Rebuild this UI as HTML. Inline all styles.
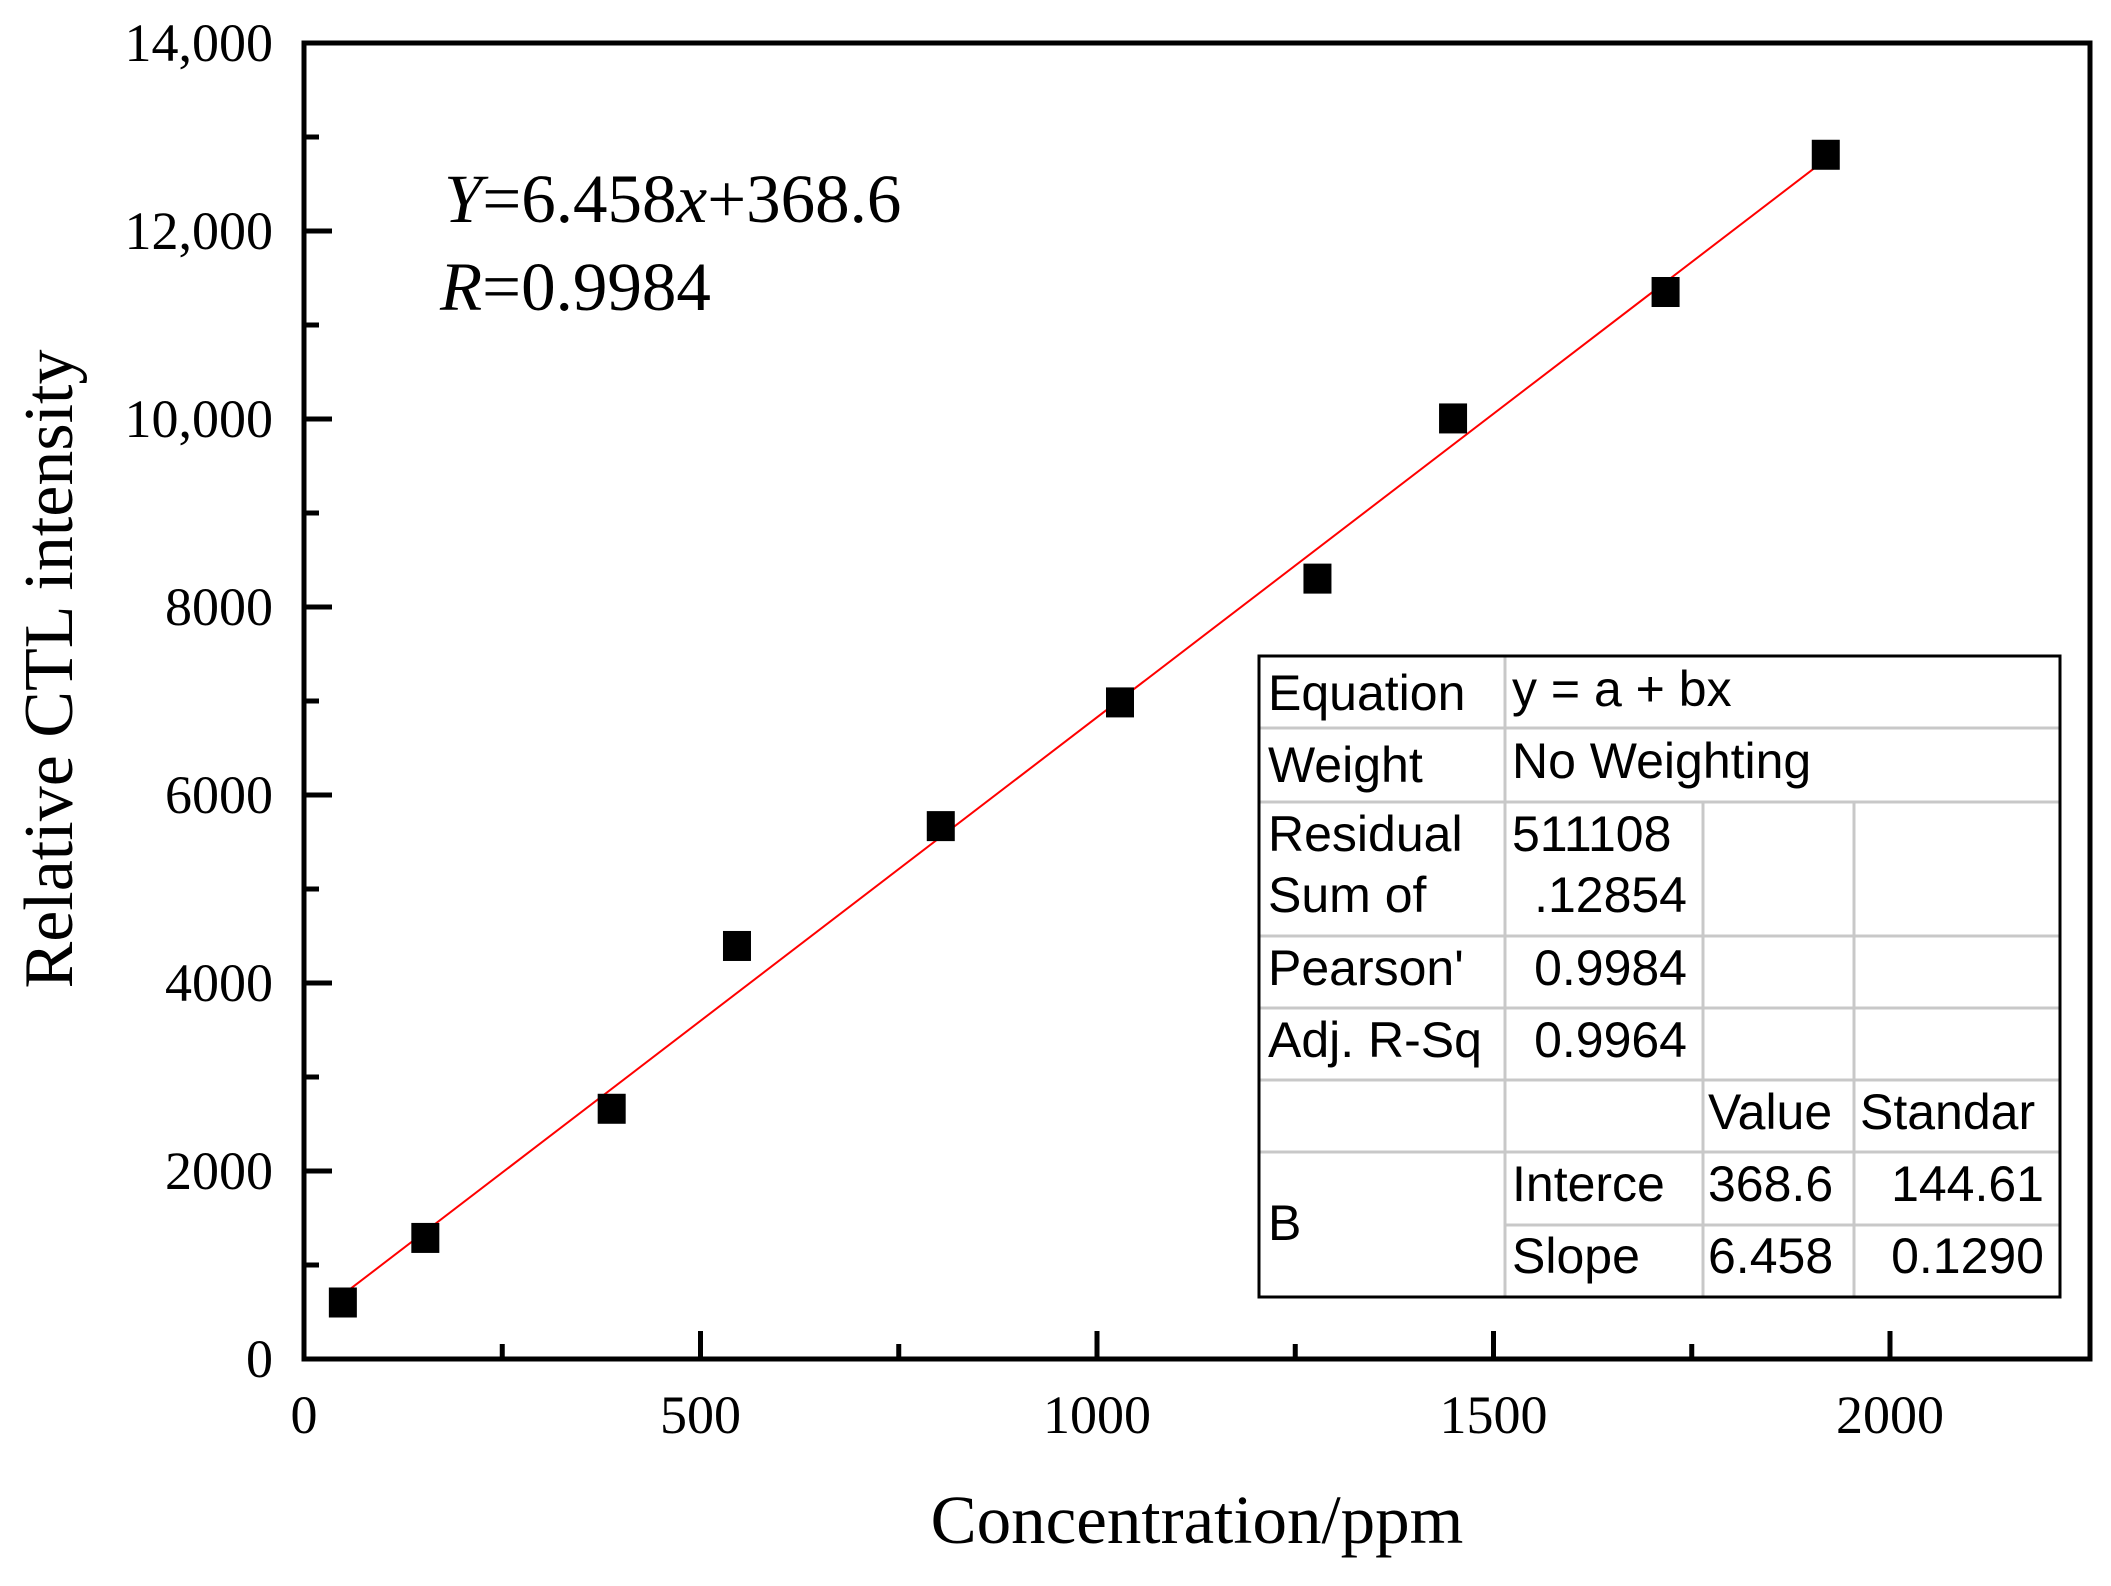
<!DOCTYPE html>
<html><head><meta charset="utf-8"><style>
html,body{margin:0;padding:0;background:#fff;}
svg{display:block;}
</style></head><body>
<svg id="chart" width="2111" height="1586" viewBox="0 0 2111 1586" xmlns="http://www.w3.org/2000/svg">
<g id="ticks"></g>
<g id="fit"></g>
<g id="pts"></g>
<rect x="304" y="43" width="1786" height="1316" fill="none" stroke="#000" stroke-width="5"/>
<text x="1197" y="1543" font-family="Liberation Serif, serif" font-size="69" text-anchor="middle">Concentration/ppm</text>
<text transform="translate(72,669) rotate(-90)" font-family="Liberation Serif, serif" font-size="70" text-anchor="middle">Relative CTL intensity</text>
<text x="444" y="222" font-family="Liberation Serif, serif" font-size="69"><tspan font-style="italic">Y</tspan>=6.458<tspan font-style="italic">x</tspan>+368.6</text>
<text x="440" y="310" font-family="Liberation Serif, serif" font-size="69"><tspan font-style="italic">R</tspan>=0.9984</text>
<g font-family="Liberation Sans, sans-serif" font-size="50" fill="#000">
<rect x="1259" y="656" width="801" height="641" fill="#fff" stroke="none"/>
<g stroke="#c8c8c8" stroke-width="3">
<line x1="1505" y1="656" x2="1505" y2="1297"/>
<line x1="1703" y1="802" x2="1703" y2="1297"/>
<line x1="1854" y1="802" x2="1854" y2="1297"/>
<line x1="1259" y1="728" x2="2060" y2="728"/>
<line x1="1259" y1="802" x2="2060" y2="802"/>
<line x1="1259" y1="936" x2="2060" y2="936"/>
<line x1="1259" y1="1008" x2="2060" y2="1008"/>
<line x1="1259" y1="1080" x2="2060" y2="1080"/>
<line x1="1259" y1="1152" x2="2060" y2="1152"/>
<line x1="1505" y1="1225" x2="2060" y2="1225"/>
</g>
<rect x="1259" y="656" width="801" height="641" fill="none" stroke="#000" stroke-width="3"/>
<text x="1268" y="710">Equation</text><text x="1512" y="706">y = a + bx</text>
<text x="1268" y="782">Weight</text><text x="1512" y="778">No Weighting</text>
<text x="1268" y="851">Residual</text><text x="1512" y="851">511108</text>
<text x="1268" y="912">Sum of</text><text x="1687" y="912" text-anchor="end">.12854</text>
<text x="1268" y="985">Pearson'</text><text x="1687" y="985" text-anchor="end">0.9984</text>
<text x="1268" y="1057">Adj. R-Sq</text><text x="1687" y="1057" text-anchor="end">0.9964</text>
<text x="1708" y="1129">Value</text><text x="1860" y="1129">Standar</text>
<text x="1268" y="1240">B</text>
<text x="1512" y="1201">Interce</text><text x="1708" y="1201">368.6</text><text x="2044" y="1201" text-anchor="end">144.61</text>
<text x="1512" y="1273">Slope</text><text x="1708" y="1273">6.458</text><text x="2044" y="1273" text-anchor="end">0.1290</text>
</g>
</svg>
<script>
const xValues = [49, 153, 388, 546, 803, 1029, 1278, 1449, 1717, 1919];
const yValues = [601, 1288, 2662, 4394, 5669, 6985, 8302, 10006, 11351, 12811];
const fitSlope = 6.458;
const fitIntercept = 368.6;
const xTickLabels = ["0", "500", "1000", "1500", "2000"];
const xTickValues = [0, 500, 1000, 1500, 2000];
const yTickLabels = ["0", "2000", "4000", "6000", "8000", "10,000", "12,000", "14,000"];
const yTickValues = [0, 2000, 4000, 6000, 8000, 10000, 12000, 14000];

const NS = "http://www.w3.org/2000/svg";
const X0 = 304, XPX = (1890 - 304) / 2000;
const Y0 = 1359, YPX = (1359 - 43) / 14000;
function sx(v){ return X0 + v * XPX; }
function sy(v){ return Y0 - v * YPX; }
function mk(tag, attrs, parent){
  const el = document.createElementNS(NS, tag);
  for (const k in attrs) el.setAttribute(k, attrs[k]);
  parent.appendChild(el);
  return el;
}
const ticks = document.getElementById('ticks');
for (let v = 250; v < 2250; v += 250) {
  const major = v % 500 === 0;
  const t = mk('line', {x1: sx(v), x2: sx(v), y1: Y0, y2: Y0 - (major ? 28 : 15), stroke: '#000', 'stroke-width': 5}, ticks);
  
  
}
for (let v = 1000; v < 14000; v += 1000) {
  const major = v % 2000 === 0;
  const t = mk('line', {x1: X0, x2: X0 + (major ? 28 : 15), y1: sy(v), y2: sy(v), stroke: '#000', 'stroke-width': 5}, ticks);
  
  
}
xTickValues.forEach((v, i) => {
  const t = mk('text', {x: sx(v), y: 1433, 'font-family': 'Liberation Serif, serif', 'font-size': 54, 'text-anchor': 'middle'}, ticks);
  t.textContent = xTickLabels[i];
  
  
});
yTickValues.forEach((v, i) => {
  const t = mk('text', {x: 273, y: sy(v) + 18, 'font-family': 'Liberation Serif, serif', 'font-size': 54, 'text-anchor': 'end'}, ticks);
  t.textContent = yTickLabels[i];
  
  
});
const xmin = Math.min(...xValues), xmax = Math.max(...xValues);
const fl = mk('line', {x1: sx(xmin), y1: sy(fitIntercept + fitSlope * xmin), x2: sx(xmax), y2: sy(fitIntercept + fitSlope * xmax), stroke: '#ff0000', 'stroke-width': 2}, document.getElementById('fit'));


const pts = document.getElementById('pts');
xValues.forEach((x, i) => {
  const r = mk('rect', {x: sx(x) - 14, y: sy(yValues[i]) - 15, width: 28, height: 30, fill: '#000'}, pts);
  
  
});
</script>
</body></html>
